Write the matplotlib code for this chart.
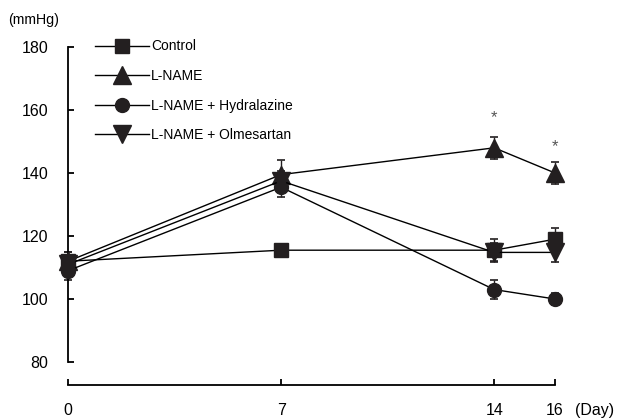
import matplotlib.pyplot as plt

plt.rcParams['font.family'] = ['Liberation Sans', 'DejaVu Sans']

# Data
days = [0, 7, 14, 16]
groups = ["Control", "L-NAME", "L-NAME + Hydralazine", "L-NAME + Olmesartan"]
control = [112, 115.5, 115.5, 119]
control_err = [3, 2, 3.5, 3.5]
lname = [112, 139.5, 148, 140]
lname_err = [3, 4.5, 3.5, 3.5]
hydral = [109, 135.5, 103, 100]
hydral_err = [3, 3, 3, 2]
olmes = [111, 137.5, 114.8, 114.8]
olmes_err = [3, 3, 3, 3]
star_days = [14, 16]
star_vals = [157.5, 148.5]

series = [control, lname, hydral, olmes]
errs = [control_err, lname_err, hydral_err, olmes_err]
markers = ['s', '^', 'o', 'v']
sizes = [10, 13, 10, 13]
dark = '#231f20'

fig = plt.figure(figsize=(6.17, 4.18), dpi=100)
ax = fig.add_axes([0.0856, 0.0789, 0.8634, 0.8463])

handles = []
for vals, err, m, ms, lab in zip(series, errs, markers, sizes, groups):
    ax.errorbar(days, vals, yerr=err, fmt='none', ecolor=dark, elinewidth=1,
                capsize=3, capthick=1.2, zorder=2, clip_on=False)
    h, = ax.plot(days, vals, color='black', lw=1, marker=m, ms=ms,
                 mfc=dark, mec=dark, label=lab, zorder=3, clip_on=False)
    handles.append(h)

for d, v in zip(star_days, star_vals):
    ax.text(d, v, '*', ha='center', va='center', fontsize=12, color='#555555')

ax.set_xlim(-0.5, 17)
ax.set_ylim(72.7, 185)

for s in ['top', 'right']:
    ax.spines[s].set_visible(False)
ax.spines['left'].set_position(('data', 0))
ax.spines['left'].set_bounds(80, 180)
ax.spines['bottom'].set_bounds(0, 16)
for s in ['left', 'bottom']:
    ax.spines[s].set_linewidth(1.3)

ax.set_yticks(range(80, 181, 20))
ax.set_xticks(days)
ax.tick_params(axis='y', direction='in', length=4, width=1.3, pad=14, labelsize=11.5)
ax.tick_params(axis='x', direction='in', length=4, width=1.3, pad=13, labelsize=11.5)

fig.text(8 / 617, 1 - 20 / 418, '(mmHg)', fontsize=10.2, va='center', ha='left')
fig.text(575 / 617, 1 - 410 / 418, '(Day)', fontsize=11.5, va='center', ha='left')

ax.legend(handles=handles, loc='upper left', frameon=False, fontsize=10,
          bbox_to_anchor=(95 / 617, 1 - 39.5 / 418), bbox_transform=fig.transFigure,
          handlelength=3.9, handletextpad=0.15, labelspacing=1.12, borderpad=0,
          borderaxespad=0, numpoints=1)

fig.savefig('out.png', dpi=100)
